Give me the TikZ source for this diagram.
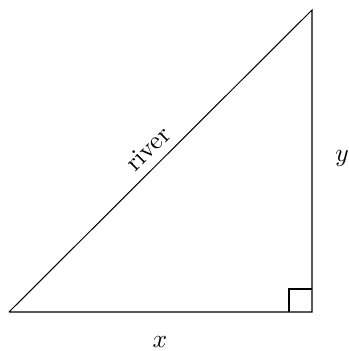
\documentclass[tikz,border=0pt]{standalone}
\begin{document}
\begin{tikzpicture}[x=0.392pt,y=-0.392pt,
  edge/.style={draw=black,line width=0.4pt},
  lbl/.style={inner sep=0pt}]
\useasboundingbox (0,0) rectangle (348,351);
\coordinate (A) at (9,312);
\coordinate (B) at (312,312);
\coordinate (C) at (312,10);
\draw[edge] (A) -- (B) -- (C) -- (A) node[midway,sloped,above,inner sep=3.33pt] (r) {river};
\draw[edge] (289,312) -- (289,289) -- (312,289);
\node[lbl] (x) at (160,342) {$x$};
\node[lbl] (y) at (342,158) {$y$};
\end{tikzpicture}
\end{document}
